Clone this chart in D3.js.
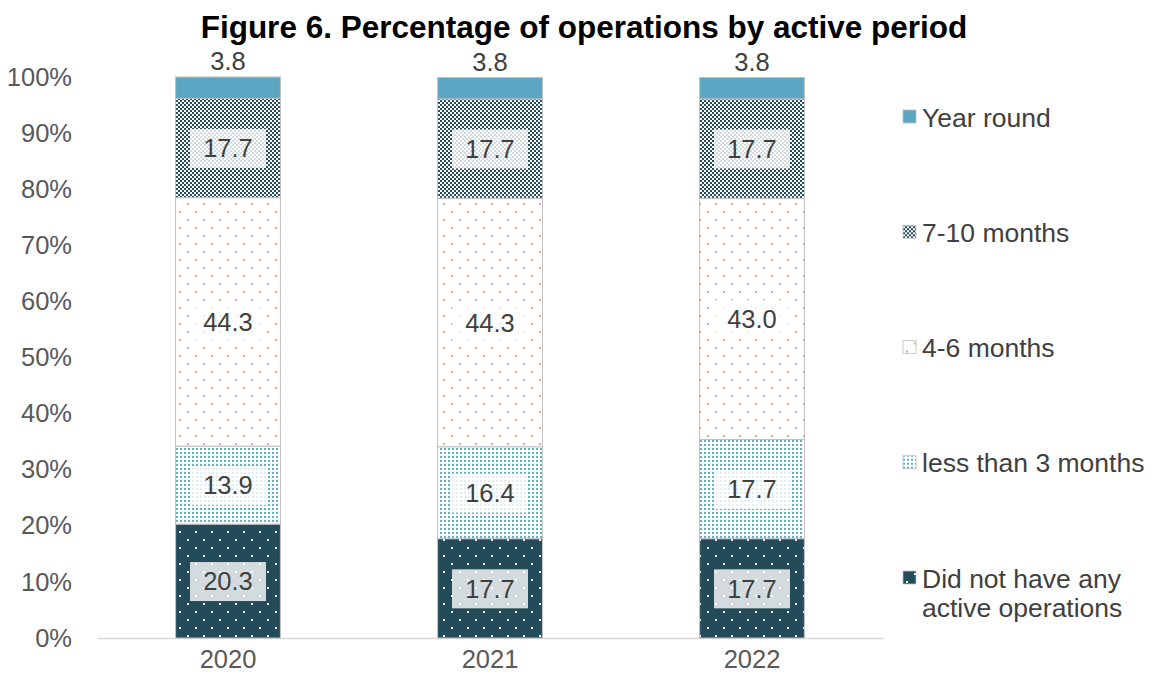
<!DOCTYPE html>
<html>
<head>
<meta charset="utf-8">
<script src="https://cdn.jsdelivr.net/npm/d3@7"></script>
<style>
  body { margin: 0; background: #fff; }
  svg text { font-family: "Liberation Sans", Arial, sans-serif; }
</style>
</head>
<body>
<svg id="chart" width="1152" height="685"></svg>
<script>
var years = ["2020", "2021", "2022"];
var keys = ["none", "lt3", "m46", "m710", "yround"];
var keyLabels = ["Did not have any active operations", "less than 3 months", "4-6 months", "7-10 months", "Year round"];
var noneVals = [20.3, 17.7, 17.7];
var lt3Vals = [13.9, 16.4, 17.7];
var m46Vals = [44.3, 44.3, 43.0];
var m710Vals = [17.7, 17.7, 17.7];
var yroundVals = [3.8, 3.8, 3.8];
var yTicks = [0, 10, 20, 30, 40, 50, 60, 70, 80, 90, 100];

var seriesVals = { none: noneVals, lt3: lt3Vals, m46: m46Vals, m710: m710Vals, yround: yroundVals };
var data = years.map(function(y, i) {
  var row = { cat: y };
  keys.forEach(function(k) { row[k] = seriesVals[k][i]; });
  return row;
});

var svg = d3.select("svg#chart");
var defs = svg.append("defs");

// patterns
var p;
p = defs.append("pattern").attr("id", "pat-none").attr("patternUnits", "userSpaceOnUse").attr("width", 16).attr("height", 16);
p.append("rect").attr("width", 16).attr("height", 16).attr("fill", "#244b5a");
p.append("rect").attr("x", 3).attr("y", 3).attr("width", 2).attr("height", 2).attr("fill", "#ffffff");
p.append("rect").attr("x", 11).attr("y", 11).attr("width", 2).attr("height", 2).attr("fill", "#ffffff");

p = defs.append("pattern").attr("id", "pat-lt3").attr("patternUnits", "userSpaceOnUse").attr("width", 4).attr("height", 4);
p.append("rect").attr("width", 4).attr("height", 4).attr("fill", "#ffffff");
p.append("rect").attr("x", 0).attr("y", 0).attr("width", 2).attr("height", 2).attr("fill", "#62afc9");

p = defs.append("pattern").attr("id", "pat-m46").attr("patternUnits", "userSpaceOnUse").attr("width", 16).attr("height", 16);
p.append("rect").attr("width", 16).attr("height", 16).attr("fill", "#ffffff");
p.append("rect").attr("x", 3).attr("y", 3).attr("width", 2).attr("height", 2).attr("fill", "#f1a27a");
p.append("rect").attr("x", 11).attr("y", 11).attr("width", 2).attr("height", 2).attr("fill", "#f1a27a");

p = defs.append("pattern").attr("id", "pat-m710").attr("patternUnits", "userSpaceOnUse").attr("width", 4).attr("height", 4);
p.append("rect").attr("width", 4).attr("height", 4).attr("fill", "#ffffff");
p.append("rect").attr("x", 0).attr("y", 0).attr("width", 2).attr("height", 2).attr("fill", "#244b5a");
p.append("rect").attr("x", 2).attr("y", 2).attr("width", 2).attr("height", 2).attr("fill", "#244b5a");

var fills = { none: "url(#pat-none)", lt3: "url(#pat-lt3)", m46: "url(#pat-m46)", m710: "url(#pat-m710)", yround: "#5aa6c3" };

var x = d3.scaleBand().domain(years).range([97, 883]).paddingInner(0.6).paddingOuter(0.3);
var y = d3.scaleLinear().domain([0, 100]).range([638, 77]);

// title
svg.append("text")
  .attr("x", 584).attr("y", 38)
  .attr("text-anchor", "middle")
  .attr("font-size", 31.5).attr("font-weight", "bold")
  .attr("fill", "#000")
  .text("Figure 6. Percentage of operations by active period");

// y axis labels
var yAxis = svg.append("g")
  .attr("transform", "translate(97,0)")
  .call(d3.axisLeft(y).tickValues(yTicks).tickSize(0).tickPadding(25).tickFormat(function(d) { return d + "%"; }));
yAxis.select(".domain").remove();
yAxis.selectAll("text").attr("font-size", 25.5).attr("fill", "#595959");

// x axis
var xAxis = svg.append("g")
  .attr("transform", "translate(0,638)")
  .call(d3.axisBottom(x).tickSize(0).tickPadding(12));
xAxis.select(".domain").attr("stroke", "#d9d9d9").attr("stroke-width", 1.5);
xAxis.selectAll("text").attr("font-size", 25.5).attr("fill", "#595959");

// bars
var series = d3.stack().keys(keys)(data);

var layers = svg.append("g").selectAll("g")
  .data(series)
  .enter().append("g")
    .attr("fill", function(d) { return fills[d.key]; });

layers.selectAll("rect")
  .data(function(d) { return d; })
  .enter().append("rect")
    .attr("x", function(d) { return x(d.data.cat); })
    .attr("y", function(d) { return y(d[1]); })
    .attr("width", x.bandwidth())
    .attr("height", function(d) { return y(d[0]) - y(d[1]); })
    .attr("stroke", "#bfbfbf")
    .attr("stroke-width", 1);

// value labels
var labels = svg.append("g");
series.forEach(function(s) {
  s.forEach(function(d) {
    var cx = x(d.data.cat) + x.bandwidth() / 2;
    var val = d.data[s.key];
    var cy = s.key === "yround" ? y(d[1]) - 16 : (y(d[0]) + y(d[1])) / 2;
    if (s.key !== "yround") {
      labels.append("rect")
        .attr("x", cx - 38).attr("y", cy - 19)
        .attr("width", 76).attr("height", 39)
        .attr("fill", "#ffffff").attr("fill-opacity", 0.8);
    }
    labels.append("text")
      .attr("x", cx).attr("y", cy)
      .attr("dy", "0.36em")
      .attr("text-anchor", "middle")
      .attr("font-size", 25.5)
      .attr("fill", "#404040")
      .text(val.toFixed(1));
  });
});

// legend
var legendKeys = keys.slice().reverse();
var legendLabels = keyLabels.slice().reverse();
var ly = d3.scalePoint().domain(legendKeys).range([117, 578]);
var legend = svg.append("g").selectAll("g")
  .data(legendKeys)
  .enter().append("g")
    .attr("transform", function(d) { return "translate(903," + ly(d) + ")"; });

legend.append("rect")
  .attr("x", 0).attr("y", -7)
  .attr("width", 13).attr("height", 13)
  .attr("fill", function(d) { return fills[d]; })
  .attr("stroke", "#bfbfbf").attr("stroke-width", 0.8);

legend.append("text")
  .attr("x", 19)
  .attr("font-size", 26.5)
  .attr("fill", "#404040")
  .each(function(d, i) {
    var t = d3.select(this);
    if (d === "none") {
      t.append("tspan").attr("x", 19).attr("dy", "0.36em").text("Did not have any");
      t.append("tspan").attr("x", 19).attr("dy", "1.1em").text("active operations");
    } else {
      t.attr("dy", "0.36em").text(legendLabels[i]);
    }
  });
</script>
</body>
</html>
